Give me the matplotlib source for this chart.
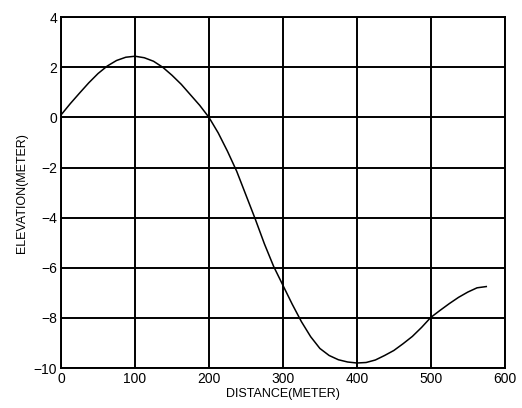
import matplotlib
matplotlib.use("Agg")
import matplotlib.pyplot as plt

# profile, every 12.5 m
distance = [0, 12.5, 25, 37.5, 50, 62.5, 75, 87.5, 100, 112.5, 125, 137.5,
            150, 162.5, 175, 187.5, 200, 212.5, 225, 237.5, 250, 262.5, 275, 287.5,
            300, 312.5, 325, 337.5, 350, 362.5, 375, 387.5, 400, 412.5, 425, 437.5,
            450, 462.5, 475, 487.5, 500, 512.5, 525, 537.5, 550, 562.5, 575]
elevation = [0.1, 0.55, 0.97, 1.38, 1.75, 2.05, 2.27, 2.4, 2.44, 2.38, 2.24, 2.0,
             1.68, 1.32, 0.9, 0.48, 0.0, -0.62, -1.35, -2.15, -3.1, -4.05, -5.05, -5.95,
             -6.7, -7.45, -8.15, -8.75, -9.22, -9.5, -9.67, -9.76, -9.8, -9.78, -9.68, -9.5,
             -9.3, -9.03, -8.74, -8.38, -7.98, -7.7, -7.43, -7.18, -6.97, -6.8, -6.75]

xticks = [0, 100, 200, 300, 400, 500, 600]
yticks = [-10, -8, -6, -4, -2, 0, 2, 4]

plt.rcParams['font.family'] = ['Liberation Sans', 'DejaVu Sans']

fig = plt.figure(figsize=(5.22, 4.08), dpi=100)
ax = fig.add_axes([0.117, 0.098, 0.85, 0.86])

ax.plot(distance, elevation, color='black', linewidth=1.1)

ax.set_xlim(0, 600)
ax.set_ylim(-10, 4)
ax.set_xticks(xticks)
ax.set_yticks(yticks)
ax.grid(True, color='black', linewidth=1.4)
ax.tick_params(length=0, labelsize=10, pad=3)
for s in ax.spines.values():
    s.set_linewidth(1.4)

ax.set_xlabel('DISTANCE(METER)', fontsize=9, labelpad=1)
ax.set_ylabel('ELEVATION(METER)', fontsize=9, labelpad=4)

fig.savefig('out.png', dpi=100)
